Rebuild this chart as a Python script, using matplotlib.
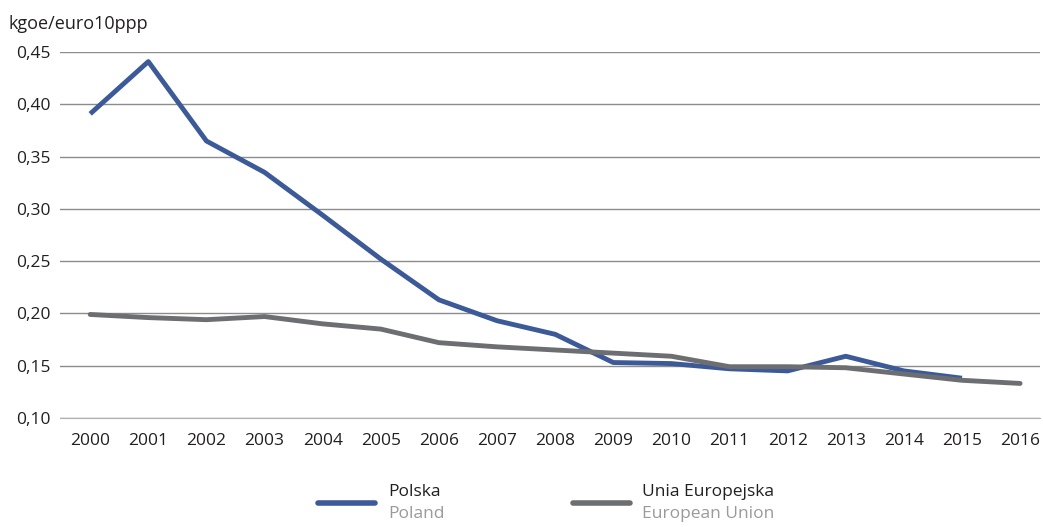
import matplotlib.pyplot as plt
from matplotlib.lines import Line2D
from matplotlib.ticker import FuncFormatter

plt.rcParams['font.family'] = ['Open Sans', 'DejaVu Sans']

years = list(range(2000, 2017))
polska = [0.391, 0.441, 0.365, 0.335, 0.294, 0.252, 0.213, 0.193, 0.180, 0.153,
          0.152, 0.147, 0.145, 0.159, 0.145, 0.138]
ue = [0.199, 0.196, 0.194, 0.197, 0.190, 0.185, 0.172, 0.168, 0.165, 0.162,
      0.159, 0.149, 0.149, 0.148, 0.142, 0.136, 0.133]
yticks = [0.10, 0.15, 0.20, 0.25, 0.30, 0.35, 0.40, 0.45]

blue = '#3d5a98'
grey = '#6d6e71'

fig = plt.figure(figsize=(10.43, 5.27), dpi=100)
ax = fig.add_axes([0.0575, 0.207, 0.9395, 0.694])

ax.plot(years[:len(polska)], polska, color=blue, lw=3.5, solid_capstyle='butt')
ax.plot(years, ue, color=grey, lw=3.5, solid_capstyle='round')

ax.set_xlim(1999.48, 2016.34)
ax.set_ylim(0.10, 0.45)
ax.set_yticks(yticks)
ax.set_xticks(years)
ax.yaxis.set_major_formatter(FuncFormatter(lambda v, p: f'{v:.2f}'.replace('.', ',')))
ax.grid(axis='y', color='#8c8c8c', lw=1)
ax.set_axisbelow(True)
for s in ['top', 'right', 'left']:
    ax.spines[s].set_visible(False)
ax.spines['bottom'].set_color('#b0b0b0')
ax.tick_params(length=0, labelsize=12.5, colors='#231f20')
ax.tick_params(axis='x', pad=11)
ax.tick_params(axis='y', pad=7)

fig.text(0.008, 0.945, 'kgoe/euro10ppp', fontsize=13, color='#231f20')

# legend
legend = [(0.305, 'Polska', 'Poland', blue), (0.549, 'Unia Europejska', 'European Union', grey)]
for x0, pl, en, c in legend:
    fig.add_artist(Line2D([x0, x0 + 0.055], [0.045, 0.045], color=c, lw=4,
                          solid_capstyle='round', transform=fig.transFigure))
    fig.text(x0 + 0.067, 0.066, pl, fontsize=12.5, color='#231f20', va='center')
    fig.text(x0 + 0.067, 0.025, en, fontsize=12.5, color='#9a9a9a', va='center')

fig.savefig('out.png', dpi=100)
